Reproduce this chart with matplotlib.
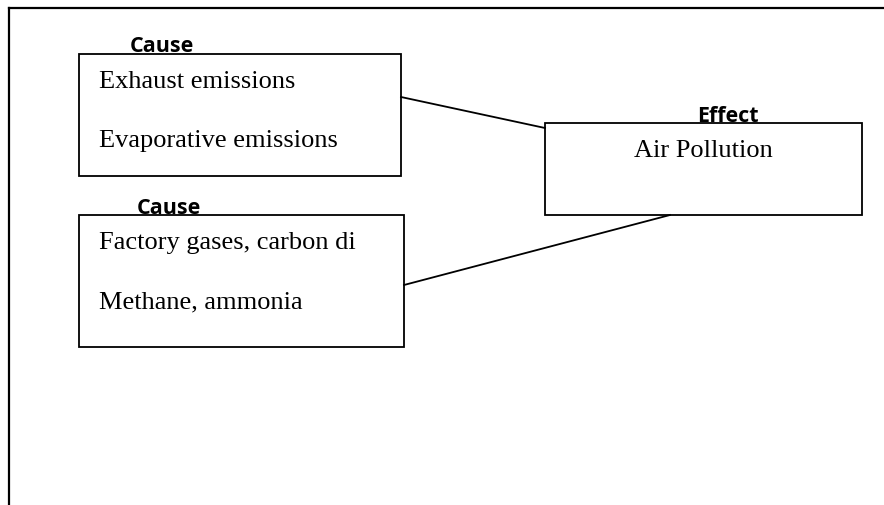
import matplotlib.pyplot as plt
from matplotlib.patches import Rectangle

# text content
headings = ["Cause", "Effect", "Cause"]
cause_items = [["Exhaust emissions", "Evaporative emissions"],
               ["Factory gases, carbon di", "Methane, ammonia"]]
effect_item = "Air Pollution"

# layout in pixel coords (x0, y0, x1, y1), y grows downward
cause_boxes = [(79, 54, 401, 176), (79, 215, 404, 347)]
effect_box = (545, 123, 862, 215)
heading_pos = [(130, 47), (697, 117), (137, 208)]
links = [((401, 97), (545, 128)), ((404, 285), (670, 215))]

fig = plt.figure(figsize=(8.84, 5.05), dpi=100)
ax = fig.add_axes([0, 0, 1, 1])
ax.set_xlim(0, 884)
ax.set_ylim(505, 0)
ax.axis('off')

serif = 'Liberation Serif'
bold = 'Open Sans'
fs = 19

# page frame: top and left edges only
ax.plot([9, 884], [8, 8], color='black', lw=1.6)
ax.plot([9, 9], [8, 505], color='black', lw=1.6)

def box(b):
    x0, y0, x1, y1 = b
    ax.add_patch(Rectangle((x0, y0), x1 - x0, y1 - y0, fill=False,
                           edgecolor='black', lw=1.3, zorder=3))

for (p, q) in links:
    ax.plot([p[0], q[0]], [p[1], q[1]], color='black', lw=1.3, zorder=2)

for b, items in zip(cause_boxes, cause_items):
    box(b)
    ax.text(b[0] + 20, b[1] + 28, items[0], family=serif, fontsize=fs,
            va='center', ha='left', zorder=4)
    ax.text(b[0] + 20, b[1] + 87, items[1], family=serif, fontsize=fs,
            va='center', ha='left', zorder=4)

box(effect_box)
ax.text((effect_box[0] + effect_box[2]) / 2, effect_box[1] + 28, effect_item,
        family=serif, fontsize=fs, va='center', ha='center', zorder=4)

for (x, y), h in zip(heading_pos, headings):
    ax.text(x, y, h, family=bold, fontweight='bold', fontsize=15.5,
            va='center', ha='left', zorder=5)

fig.savefig('out.png', dpi=100)
